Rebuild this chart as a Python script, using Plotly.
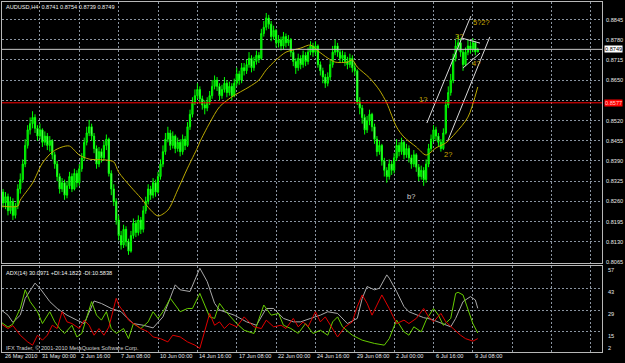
import plotly.graph_objects as go

# ---------------- data ----------------
first_open = 0.8270
close = [0.8290,0.8255,0.8275,0.8230,0.8260,0.8215,0.8245,0.8300,0.8330,0.8380,
0.8440,0.8490,0.8510,0.8530,0.8495,0.8470,0.8490,0.8450,0.8470,0.8440,
0.8455,0.8410,0.8380,0.8340,0.8300,0.8320,0.8280,0.8310,0.8340,0.8300,
0.8350,0.8320,0.8365,0.8400,0.8450,0.8480,0.8500,0.8470,0.8430,0.8380,
0.8420,0.8400,0.8440,0.8460,0.8350,0.8300,0.8260,0.8200,0.8150,0.8120,
0.8170,0.8130,0.8100,0.8150,0.8190,0.8160,0.8200,0.8170,0.8230,0.8260,
0.8300,0.8280,0.8320,0.8290,0.8340,0.8380,0.8420,0.8460,0.8480,0.8440,
0.8470,0.8430,0.8450,0.8420,0.8460,0.8440,0.8500,0.8540,0.8580,0.8600,
0.8620,0.8590,0.8570,0.8560,0.8580,0.8600,0.8630,0.8650,0.8630,0.8600,
0.8620,0.8640,0.8610,0.8630,0.8600,0.8640,0.8670,0.8650,0.8690,0.8680,
0.8700,0.8720,0.8690,0.8710,0.8730,0.8720,0.8800,0.8820,0.8850,0.8830,
0.8790,0.8810,0.8770,0.8780,0.8760,0.8790,0.8770,0.8780,0.8740,0.8710,
0.8690,0.8720,0.8700,0.8730,0.8710,0.8740,0.8760,0.8740,0.8760,0.8700,
0.8680,0.8660,0.8640,0.8660,0.8700,0.8740,0.8760,0.8740,0.8720,0.8730,
0.8710,0.8700,0.8720,0.8690,0.8680,0.8580,0.8560,0.8530,0.8490,0.8520,
0.8540,0.8500,0.8460,0.8420,0.8440,0.8390,0.8360,0.8340,0.8380,0.8360,
0.8400,0.8440,0.8420,0.8450,0.8410,0.8430,0.8400,0.8380,0.8410,0.8370,
0.8340,0.8360,0.8330,0.8380,0.8430,0.8460,0.8490,0.8470,0.8450,0.8430,
0.8480,0.8570,0.8610,0.8650,0.8720,0.8760,0.8770,0.8740,0.8700,0.8740,
0.8760,0.8750,0.8770,0.8741,0.8749]
high = [0.8310,0.8300,0.8290,0.8285,0.8275,0.8270,0.8255,0.8315,0.8350,0.8395,
0.8460,0.8505,0.8530,0.8550,0.8540,0.8505,0.8510,0.8495,0.8485,0.8480,
0.8470,0.8460,0.8420,0.8390,0.8350,0.8335,0.8330,0.8325,0.8355,0.8350,
0.8365,0.8360,0.8380,0.8415,0.8465,0.8500,0.8522,0.8510,0.8480,0.8440,
0.8435,0.8430,0.8455,0.8475,0.8465,0.8360,0.8315,0.8270,0.8215,0.8165,
0.8185,0.8180,0.8140,0.8165,0.8205,0.8200,0.8215,0.8210,0.8245,0.8275,
0.8315,0.8310,0.8335,0.8330,0.8355,0.8395,0.8440,0.8480,0.8500,0.8490,
0.8485,0.8475,0.8465,0.8460,0.8475,0.8470,0.8515,0.8555,0.8595,0.8620,
0.8640,0.8630,0.8600,0.8585,0.8595,0.8615,0.8650,0.8665,0.8660,0.8640,
0.8635,0.8660,0.8650,0.8645,0.8640,0.8655,0.8690,0.8680,0.8705,0.8705,
0.8715,0.8740,0.8730,0.8725,0.8745,0.8740,0.8815,0.8840,0.8866,0.8860,
0.8840,0.8825,0.8815,0.8795,0.8790,0.8805,0.8800,0.8795,0.8785,0.8750,
0.8720,0.8735,0.8730,0.8745,0.8740,0.8755,0.8775,0.8770,0.8775,0.8765,
0.8710,0.8690,0.8670,0.8675,0.8715,0.8760,0.8780,0.8770,0.8750,0.8745,
0.8740,0.8725,0.8735,0.8730,0.8705,0.8685,0.8595,0.8570,0.8540,0.8535,
0.8555,0.8545,0.8510,0.8470,0.8455,0.8445,0.8400,0.8370,0.8395,0.8390,
0.8415,0.8460,0.8450,0.8465,0.8455,0.8445,0.8440,0.8410,0.8425,0.8415,
0.8380,0.8375,0.8370,0.8395,0.8445,0.8475,0.8505,0.8500,0.8480,0.8460,
0.8495,0.8585,0.8630,0.8670,0.8735,0.8780,0.8795,0.8785,0.8750,0.8755,
0.8780,0.8775,0.8785,0.8775,0.8754]
low = [0.8255,0.8240,0.8235,0.8215,0.8220,0.8200,0.8205,0.8235,0.8285,0.8320,
0.8370,0.8430,0.8475,0.8495,0.8480,0.8455,0.8460,0.8435,0.8440,0.8425,
0.8420,0.8395,0.8365,0.8325,0.8285,0.8290,0.8265,0.8270,0.8300,0.8290,
0.8295,0.8305,0.8310,0.8355,0.8390,0.8440,0.8470,0.8455,0.8415,0.8365,
0.8370,0.8385,0.8390,0.8425,0.8340,0.8280,0.8245,0.8185,0.8135,0.8105,
0.8110,0.8115,0.8088,0.8095,0.8140,0.8145,0.8150,0.8155,0.8160,0.8220,
0.8250,0.8265,0.8270,0.8275,0.8285,0.8330,0.8370,0.8410,0.8450,0.8425,
0.8430,0.8415,0.8420,0.8405,0.8410,0.8425,0.8435,0.8490,0.8530,0.8570,
0.8590,0.8575,0.8555,0.8540,0.8550,0.8570,0.8590,0.8620,0.8615,0.8585,
0.8590,0.8610,0.8595,0.8600,0.8585,0.8595,0.8630,0.8635,0.8640,0.8665,
0.8670,0.8690,0.8675,0.8680,0.8700,0.8705,0.8715,0.8790,0.8810,0.8815,
0.8775,0.8780,0.8755,0.8755,0.8745,0.8750,0.8755,0.8760,0.8725,0.8695,
0.8670,0.8680,0.8685,0.8690,0.8695,0.8700,0.8730,0.8725,0.8730,0.8690,
0.8665,0.8640,0.8625,0.8630,0.8650,0.8690,0.8730,0.8725,0.8705,0.8705,
0.8695,0.8685,0.8690,0.8675,0.8665,0.8570,0.8540,0.8510,0.8475,0.8480,
0.8505,0.8485,0.8445,0.8405,0.8410,0.8375,0.8340,0.8320,0.8330,0.8345,
0.8350,0.8390,0.8405,0.8410,0.8395,0.8400,0.8385,0.8365,0.8370,0.8355,
0.8325,0.8330,0.8310,0.8320,0.8370,0.8420,0.8450,0.8455,0.8435,0.8420,
0.8425,0.8475,0.8560,0.8600,0.8640,0.8710,0.8745,0.8725,0.8680,0.8695,
0.8730,0.8735,0.8740,0.8730,0.8739]
open_ = [first_open] + close[:-1]
bars = list(range(len(close)))

# moving average (yellow), read at bar positions
ma_i = [0, 7, 8, 13, 17, 21, 25, 28, 32, 36, 43, 46, 48, 53, 57, 61, 64, 68, 72, 76,
        80, 81, 85, 89, 94, 101, 105, 108, 112, 116, 122, 126, 129, 133, 136, 141, 143,
        145, 150, 154, 157, 161, 164, 169, 173, 177, 181, 185, 190, 194]
ma_v = [0.8245, 0.8245, 0.8264, 0.8319, 0.8383, 0.8419, 0.8435, 0.8438, 0.8409, 0.8396,
        0.8393, 0.8387, 0.8354, 0.8306, 0.8271, 0.8232, 0.8213, 0.8232, 0.8297, 0.8367,
        0.8432, 0.8451, 0.8512, 0.8564, 0.8596, 0.8628, 0.8650, 0.8683, 0.8715, 0.8740,
        0.8753, 0.8763, 0.8744, 0.8721, 0.8708, 0.8708, 0.8715, 0.8692, 0.8657, 0.8618,
        0.8576, 0.8499, 0.8467, 0.8435, 0.8409, 0.8432, 0.8448, 0.8480, 0.8531, 0.8628]

# ADX(14) panel
adx_i = [0, 3, 5, 8, 10, 14, 16, 18, 20, 23, 27, 31, 34, 38, 41, 45, 49, 52, 54, 58,
         62, 66, 71, 73, 77, 81, 84, 87, 89, 95, 100, 104, 108, 111, 115, 119, 122, 126,
         130, 133, 137, 141, 145, 147, 149, 152, 154, 157, 158, 161, 164, 166, 169, 172,
         175, 177, 180, 183, 185, 188, 191, 193, 194]
adx_v = [29.3, 25.7, 21, 25.7, 36.5, 46.3, 43, 38.7, 34.4, 30, 25.7, 22.5, 20.3, 34.8, 33.2,
         30, 27.9, 23.1, 20.3, 19.2, 17.5, 24.6, 45.2, 42, 40.9, 55.9, 47.3, 33.3, 29, 25.7,
         21.4, 19.2, 30, 30, 23.6, 21.4, 21.4, 23.6, 25.7, 27.9, 26.8, 20.3, 23.6, 36.5, 44.1,
         42, 43, 51.6, 49.5, 40.9, 31.2, 27.9, 26.2, 24.1, 23.1, 21.8, 20.3, 18.2, 23.6, 34.4,
         37.6, 35.5, 30.1]
pdi_i = [0, 3, 5, 8, 10, 12, 15, 17, 20, 22, 24, 26, 29, 31, 33, 37, 39, 41, 43, 45,
         47, 50, 52, 54, 57, 60, 62, 64, 66, 69, 71, 73, 76, 78, 81, 83, 85, 87, 89, 91,
         94, 96, 99, 103, 107, 110, 113, 115, 118, 121, 124, 127, 130, 133, 135, 137, 139,
         143, 147, 152, 156, 158, 161, 164, 166, 168, 171, 173, 176, 178, 180, 183, 185,
         186, 188, 190, 192, 194]
pdi_v = [21.4, 18, 20, 30, 42, 34.4, 27.9, 20.3, 27.9, 21.4, 17.1, 13.9, 19.2, 11.7, 13.9,
         34.4, 25.7, 22.5, 27.9, 17.1, 13.9, 17.1, 10.6, 20.3, 17.1, 21.4, 27.9, 23.6, 27.9,
         36.5, 32.2, 27.9, 30, 30, 39.7, 32.2, 24.6, 23.6, 33.3, 29, 23.6, 20.3, 16, 13.9,
         32.2, 25.7, 26.8, 19.2, 17.1, 14, 20.3, 13.9, 16, 12.8, 21.4, 24.6, 18.2, 12.8, 9.6,
         7.5, 6.4, 10.6, 22.5, 15, 12.8, 18.2, 15, 22.5, 30, 25.7, 19.2, 23.6, 39.7, 40.4,
         38.7, 30, 20.3, 14.2]
mdi_i = [0, 3, 5, 8, 11, 13, 15, 17, 19, 21, 23, 25, 27, 29, 32, 34, 36, 38, 40, 42,
         44, 47, 48, 50, 52, 54, 57, 60, 62, 65, 68, 70, 73, 76, 79, 81, 83, 85, 87, 89,
         91, 93, 96, 99, 103, 106, 108, 111, 114, 116, 119, 121, 123, 125, 128, 130, 132,
         135, 137, 140, 143, 145, 147, 149, 151, 153, 155, 158, 161, 164, 166, 169, 172,
         174, 176, 179, 181, 184, 187, 189, 192, 194]
mdi_v = [20.3, 17.1, 19, 12.8, 8.5, 6.4, 12.8, 9.6, 12.8, 19.2, 17.1, 27.9, 21.4, 20.3, 17.1,
         22.5, 19.2, 12.8, 17.1, 12.8, 18, 36.5, 32.2, 27.9, 22.5, 20.3, 17.1, 15, 11.7, 10.6,
         8.5, 12.8, 11.7, 8.5, 6.4, 4.3, 16, 26.8, 19.2, 21.4, 17.1, 20.3, 18.2, 24.6, 18.2,
         17.1, 22.5, 18.2, 19.2, 17.1, 23.6, 18.2, 21.4, 18.2, 27.9, 21.4, 24.6, 17.1, 11.7,
         18.2, 21.4, 31.2, 38.7, 33.3, 25.7, 32.2, 38.7, 30, 20.3, 22.5, 20.3, 23.6, 30, 24.6,
         21.4, 26.8, 21.4, 17.1, 12.8, 10.6, 9, 10.6]

# time axis labels (every 16 bars)
time_i = [0, 16, 32, 48, 64, 80, 96, 112, 128, 144, 160, 176, 192]
time_txt = ["26 May 2010", "31 May 00:00", "2 Jun 16:00", "7 Jun 08:00", "10 Jun 00:00",
            "14 Jun 16:00", "17 Jun 08:00", "22 Jun 00:00", "24 Jun 16:00", "29 Jun 08:00",
            "2 Jul 00:00", "6 Jul 16:00", "9 Jul 08:00"]
grid_i = [16, 32, 48, 64, 80, 96, 112, 128, 144, 160, 176, 192, 208, 224, 240]

price_ticks = [0.8845, 0.8780, 0.8715, 0.8650, 0.8585, 0.8520, 0.8455, 0.8390, 0.8325,
               0.8260, 0.8195, 0.8130, 0.8065]
adx_ticks = [57, 43, 29, 15, 2]

bid_price = 0.8749
red_level = 0.8577

# hand drawn objects
chan_up_i = [173.3, 191.2]
chan_up_p = [0.8512, 0.8856]
chan_lo_i = [181.9, 198.9]
chan_lo_p = [0.8457, 0.8789]
wedge_top_i = [187.6, 194.9]
wedge_top_p = [0.8785, 0.8769]
wedge_bot_i = [188.0, 194.9]
wedge_bot_p = [0.8689, 0.8737]

wave_txt = ["1?", "2?", "3?", "4?", "5?2?", "b?"]
wave_i = [171.7, 181.9, 186.3, 193.3, 195.6, 166.8]
wave_p = [0.8589, 0.8412, 0.8789, 0.8702, 0.8834, 0.8277]
wave_col = ["#c8a800", "#c8a800", "#c8a800", "#c8a800", "#c8a800", "#d0d0d0"]

# ---------------- figure ----------------
FONT = "Liberation Sans, Arial, sans-serif"
FS = 5.6
GRID = "#8a94a0"
FRAME = "#b8b8b8"

fig = go.Figure()

fig.add_trace(go.Candlestick(
    x=bars, open=open_, high=high, low=low, close=close,
    increasing=dict(line=dict(color="#00ff00", width=1), fillcolor="#00b000"),
    decreasing=dict(line=dict(color="#00ff00", width=1), fillcolor="#d8ffd8"),
    whiskerwidth=0, xaxis="x", yaxis="y", showlegend=False, hoverinfo="skip"))

fig.add_trace(go.Scatter(x=ma_i, y=ma_v, mode="lines", line=dict(color="#bcaa00", width=1, shape="spline", smoothing=0.8),
                         xaxis="x", yaxis="y", showlegend=False, hoverinfo="skip"))

for xi, yp in [(chan_up_i, chan_up_p), (chan_lo_i, chan_lo_p), (wedge_top_i, wedge_top_p), (wedge_bot_i, wedge_bot_p)]:
    fig.add_trace(go.Scatter(x=xi, y=yp, mode="lines", line=dict(color="#d8d8d8", width=1),
                             xaxis="x", yaxis="y", showlegend=False, hoverinfo="skip"))

fig.add_trace(go.Scatter(x=adx_i, y=adx_v, mode="lines", line=dict(color="#a8a8a8", width=1),
                         xaxis="x2", yaxis="y2", showlegend=False, hoverinfo="skip"))
fig.add_trace(go.Scatter(x=pdi_i, y=pdi_v, mode="lines", line=dict(color="#66cc00", width=1),
                         xaxis="x2", yaxis="y2", showlegend=False, hoverinfo="skip"))
fig.add_trace(go.Scatter(x=mdi_i, y=mdi_v, mode="lines", line=dict(color="#e00000", width=1),
                         xaxis="x2", yaxis="y2", showlegend=False, hoverinfo="skip"))

xr = [0.57, 244.5]
fig.update_layout(
    width=625, height=363,
    margin=dict(l=2, r=23, t=2, b=11),
    paper_bgcolor="black", plot_bgcolor="black",
    font=dict(family=FONT, size=FS, color="#e8e8e8"),
    xaxis=dict(domain=[0, 1], range=xr, anchor="y", tickvals=grid_i, showticklabels=False,
               showgrid=True, gridcolor=GRID, griddash="2px,2px", gridwidth=1, zeroline=False,
               showline=True, mirror=True, linecolor=FRAME, linewidth=1, ticks="",
               rangeslider=dict(visible=False)),
    yaxis=dict(domain=[0.2543, 1], range=[0.80618, 0.89013], tickvals=price_ticks,
               showticklabels=False, showgrid=True, gridcolor=GRID, griddash="2px,2px",
               zeroline=False, showline=True, mirror=True, linecolor=FRAME, linewidth=1, ticks=""),
    xaxis2=dict(domain=[0, 1], range=xr, anchor="y2", tickvals=grid_i, showticklabels=False,
                showgrid=True, gridcolor=GRID, griddash="2px,2px", zeroline=False,
                showline=True, mirror=True, linecolor=FRAME, linewidth=1, ticks=""),
    yaxis2=dict(domain=[0, 0.2443], range=[2, 57], tickvals=[15, 29, 43],
                showticklabels=False, showgrid=True, gridcolor=GRID, griddash="2px,2px",
                zeroline=False, showline=True, mirror=True, linecolor=FRAME, linewidth=1, ticks=""),
)

# horizontal bid line and red level
fig.add_shape(type="line", xref="x", yref="y", x0=xr[0], x1=xr[1], y0=bid_price, y1=bid_price,
              line=dict(color="#c8c8c8", width=1))
fig.add_shape(type="line", xref="x", yref="y", x0=xr[0], x1=xr[1], y0=red_level, y1=red_level,
              line=dict(color="#ff0000", width=1))

ann = []
# price scale labels
for p in price_ticks:
    if abs(p - 0.8585) < 1e-6:
        continue
    ann.append(dict(xref="paper", yref="y", x=1.004, y=p, xanchor="left", yanchor="middle",
                    text=f"{p:.4f}", showarrow=False, font=dict(size=FS, color="#e8e8e8")))
ann.append(dict(xref="paper", yref="y", x=1.003, y=bid_price, xanchor="left", yanchor="middle",
                text=f"{bid_price:.4f}", showarrow=False, bgcolor="white", borderpad=0,
                font=dict(size=FS, color="black")))
ann.append(dict(xref="paper", yref="y", x=1.003, y=red_level, xanchor="left", yanchor="middle",
                text=f"{red_level:.4f}", showarrow=False, bgcolor="#ff0000", borderpad=0,
                font=dict(size=FS, color="#ffd0d0")))
# ADX scale labels
for v in adx_ticks:
    ann.append(dict(xref="paper", yref="y2", x=1.006, y=v, xanchor="left", yanchor="middle",
                    yshift=(4 if v == 2 else -4), text=str(v), showarrow=False,
                    font=dict(size=FS, color="#e8e8e8")))
# time labels
for ti, tt in zip(time_i, time_txt):
    if ti == 0:
        ann.append(dict(xref="paper", yref="paper", x=0.002, y=-0.012, xanchor="left",
                        yanchor="middle", text=tt, showarrow=False,
                        font=dict(size=FS, color="#e8e8e8")))
    else:
        ann.append(dict(xref="x2", yref="paper", x=ti, y=-0.012, xanchor="left", yanchor="middle",
                        xshift=0, text=tt, showarrow=False,
                        font=dict(size=FS, color="#e8e8e8")))
# wave labels
for t, xi, yp, col in zip(wave_txt, wave_i, wave_p, wave_col):
    ann.append(dict(xref="x", yref="y", x=xi, y=yp, text=t, showarrow=False,
                    xanchor="center", yanchor="middle", font=dict(size=7.5, color=col)))
# titles
ann.append(dict(xref="paper", yref="paper", x=0.004, y=0.9857, xanchor="left", yanchor="middle",
                text="AUDUSD,H4  0.8741 0.8754 0.8739 0.8749", showarrow=False,
                font=dict(size=FS, color="#f0f0f0")))
ann.append(dict(xref="paper", yref="paper", x=0.004, y=0.2257, xanchor="left", yanchor="middle",
                text="ADX(14) 30.0971 +DI:14.1823 -DI:10.5838", showarrow=False,
                font=dict(size=FS, color="#f0f0f0")))
ann.append(dict(xref="paper", yref="paper", x=0.004, y=0.0114, xanchor="left", yanchor="middle",
                text="IFX Trader, © 2001-2010 MetaQuotes Software Corp.", showarrow=False,
                font=dict(size=FS, color="#d0d0d0")))
fig.update_layout(annotations=ann)

fig.write_html("out.html")
